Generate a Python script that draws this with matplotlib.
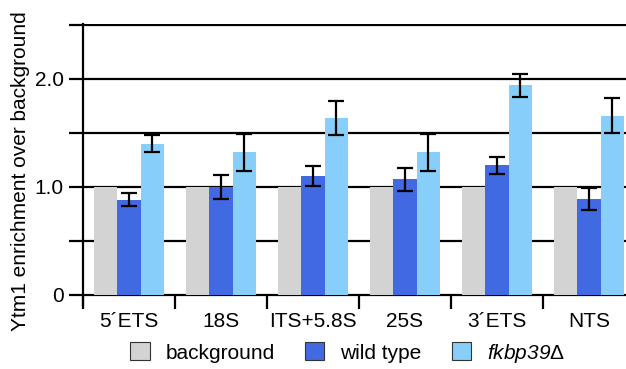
import matplotlib
matplotlib.use('Agg')
import matplotlib.pyplot as plt
import matplotlib.patches as mpatches
import numpy as np

plt.rcParams['font.family'] = ['Liberation Sans', 'DejaVu Sans']
plt.rcParams['mathtext.fontset'] = 'custom'
plt.rcParams['mathtext.it'] = 'Liberation Sans:italic'
plt.rcParams['mathtext.rm'] = 'Liberation Sans:italic'

regions = ['5\u00b4ETS', '18S', 'ITS+5.8S', '25S', '3\u00b4ETS', 'NTS']
background = [1.0, 1.0, 1.0, 1.0, 1.0, 1.0]
wild_type = [0.88, 1.00, 1.10, 1.07, 1.20, 0.89]
wild_type_err = [0.06, 0.11, 0.09, 0.11, 0.08, 0.10]
fkbp39 = [1.40, 1.32, 1.64, 1.32, 1.94, 1.66]
fkbp39_err = [0.08, 0.17, 0.16, 0.17, 0.11, 0.16]

series_labels = ['background', 'wild type', r'$\mathrm{fkbp39}$Δ']
colors = ['#d3d3d3', '#4169e1', '#87cefa']

fig = plt.figure(figsize=(6.26, 3.69), dpi=100)
ax = fig.add_axes([83 / 626, 64 / 369, 552 / 626, 281 / 369])

x = np.arange(len(regions))
w = 0.253
err_kw = dict(ecolor='black', elinewidth=1.6, capsize=5.5, capthick=1.6, zorder=4)
ax.bar(x - w, background, w, color=colors[0], zorder=3)
ax.bar(x, wild_type, w, yerr=wild_type_err, color=colors[1], error_kw=err_kw, zorder=3)
ax.bar(x + w, fkbp39, w, yerr=fkbp39_err, color=colors[2], error_kw=err_kw, zorder=3)

ax.set_xlim(-0.5, len(regions) - 0.5)
ax.set_ylim(-10 / 108, 2.5 + 1 / 108)

# y axis: labelled majors, unlabelled halves, black grid lines
ax.set_yticks([0, 1.0, 2.0])
ax.set_yticklabels(['0', '1.0', '2.0'])
ax.set_yticks([0.5, 1.5, 2.5], minor=True)
ax.grid(True, axis='y', which='both', color='black', linewidth=1.6, zorder=1)
ax.set_axisbelow(True)
ax.tick_params(axis='y', which='both', direction='out', length=10, width=1.6,
               labelsize=15, pad=4)

# x axis: labels at group centers, ticks between groups
ax.spines['bottom'].set_position(('data', 0))
ax.spines['bottom'].set_visible(False)
ax.spines['top'].set_visible(False)
ax.spines['right'].set_visible(False)
ax.spines['left'].set_linewidth(1.6)
ax.set_xticks(x)
ax.set_xticklabels(regions)
ax.set_xticks(np.arange(-0.5, len(regions) + 0.5, 1.0), minor=True)
ax.tick_params(axis='x', which='major', length=0, labelsize=15, pad=12)
ax.tick_params(axis='x', which='minor', direction='out', length=10, width=1.6)

ax.set_ylabel('Ytm1 enrichment over background', fontsize=15)
ax.yaxis.set_label_coords(-0.096, 0.475)

handles = [mpatches.Patch(facecolor=c, edgecolor='#333333', linewidth=0.8) for c in colors]
fig.legend(handles, series_labels, loc='center', bbox_to_anchor=(0.555, 0.043),
           ncol=3, frameon=False, fontsize=15, handlelength=0.95, handleheight=0.95,
           handletextpad=0.75, columnspacing=1.45)

fig.savefig('out.png', dpi=100)
